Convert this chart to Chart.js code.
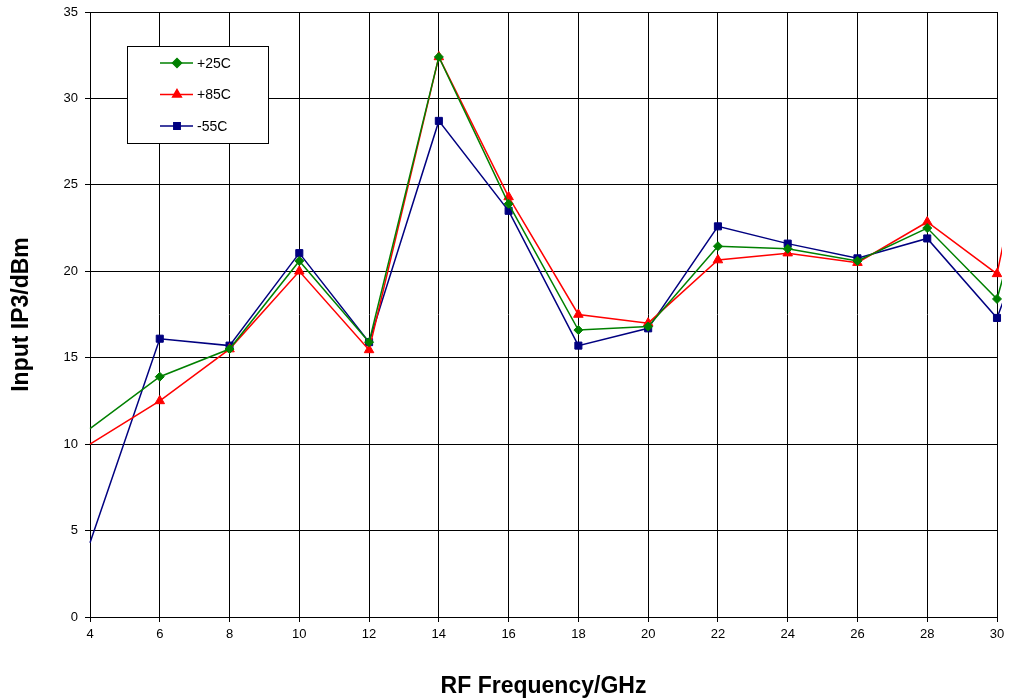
<!DOCTYPE html>
<html>
<head>
<meta charset="utf-8">
<script src="https://cdn.jsdelivr.net/npm/chart.js@4/dist/chart.umd.min.js"></script>
<style>
  html, body { margin: 0; padding: 0; background: #fff; }
  #wrap { width: 1010px; height: 700px; }
</style>
</head>
<body>
<div id="wrap"><canvas id="grafica" width="1010" height="700"></canvas></div>
<script>
// datos (GHz / dBm); el ultimo punto solo asoma tras el borde derecho
const frecuencias = [4, 6, 8, 10, 12, 14, 16, 18, 20, 22, 24, 26, 28, 30, 31];
const serie25 = [10.9, 13.9, 15.5, 20.6, 15.9, 32.4, 23.9, 16.6, 16.8, 21.45, 21.3, 20.6, 22.5, 18.4, 25.6];
const serie85 = [10.0, 12.5, 15.5, 20.0, 15.45, 32.4, 24.3, 17.5, 17.0, 20.65, 21.05, 20.5, 22.85, 19.85, 29.5];
const serieM55 = [4.3, 16.1, 15.7, 21.05, 15.9, 28.7, 23.5, 15.7, 16.7, 22.6, 21.6, 20.75, 21.9, 17.3, 22.7];
const etiquetas = ['+25C', '+85C', '-55C'];
const xTicks = [4, 6, 8, 10, 12, 14, 16, 18, 20, 22, 24, 26, 28, 30];
const yTicks = [0, 5, 10, 15, 20, 25, 30, 35];

const FONT = 'Arial, "Liberation Sans", sans-serif';

// radio del marcador: sin marcador en los extremos recortados
const visibles = frecuencias.map((f, i) => !(i === 0 || f > 30));

function serie(label, valores, color, estilo, radio) {
  return {
    label,
    data: frecuencias.map((f, i) => ({ x: f, y: valores[i] })),
    borderColor: color,
    backgroundColor: color,
    borderWidth: 1.5,
    pointStyle: estilo,
    pointRadius: visibles.map(v => v ? radio : 0),
    pointHoverRadius: visibles.map(v => v ? radio : 0),
    pointBorderWidth: 1,
    tension: 0,
    clip: { left: 2, top: 8, right: 5, bottom: 0 }
  };
}

const datasets = [
  serie(etiquetas[0], serie25, '#008000', 'rectRot', 4.5),
  serie(etiquetas[1], serie85, '#ff0000', 'triangle', 5.5),
  serie(etiquetas[2], serieM55, '#000080', 'rect', 5)
];

// leyenda dibujada a mano dentro del area del grafico
const leyenda = {
  id: 'leyenda',
  afterDraw(chart) {
    const ctx = chart.ctx;
    ctx.save();
    ctx.fillStyle = '#fff';
    ctx.fillRect(127, 46, 141, 97);
    ctx.strokeStyle = '#000';
    ctx.lineWidth = 1;
    ctx.strokeRect(127.5, 46.5, 141, 97);
    const filas = [63, 94.5, 126];
    chart.data.datasets.forEach((ds, i) => {
      const y = filas[i];
      ctx.strokeStyle = ds.borderColor;
      ctx.lineWidth = 1.5;
      ctx.beginPath();
      ctx.moveTo(160, y);
      ctx.lineTo(193, y);
      ctx.stroke();
      Chart.helpers.drawPoint(ctx, {
        pointStyle: ds.pointStyle, radius: i === 1 ? 5 : 4.5, borderWidth: 1
      }, 177, y);
      ctx.fillStyle = ds.borderColor;
      ctx.fill();
      ctx.fillStyle = '#000';
      ctx.font = '14px ' + FONT;
      ctx.textBaseline = 'middle';
      ctx.textAlign = 'left';
      ctx.fillText(ds.label, 197, y + 1);
    });
    ctx.restore();
  }
};

// fija los limites del eje x sin usar min/max (asi el tramo hasta 31 no se descarta)
function limitesX(axis) {
  axis.min = xTicks[0];
  axis.max = xTicks[xTicks.length - 1];
}

new Chart(document.getElementById('grafica'), {
  type: 'line',
  data: { datasets },
  options: {
    responsive: false,
    animation: false,
    layout: { padding: { top: 12, right: 13, left: 0, bottom: 0 } },
    plugins: { legend: { display: false }, tooltip: { enabled: false } },
    scales: {
      x: {
        type: 'linear',
        bounds: 'data',
        afterDataLimits: limitesX,
        afterBuildTicks: axis => { axis.ticks = xTicks.map(v => ({ value: v })); limitesX(axis); },
        afterFit: axis => { axis.height = 83; axis.paddingLeft = 0; axis.paddingRight = 0; },
        grid: { color: '#000', lineWidth: 1, tickLength: 5, drawTicks: true },
        border: { color: '#000', width: 1 },
        ticks: { color: '#000', font: { family: FONT, size: 13 }, padding: 5, maxRotation: 0 },
        title: {
          display: true,
          text: 'RF Frequency/GHz',
          color: '#000',
          font: { family: FONT, size: 23, weight: 'bold' },
          padding: { top: 10, bottom: 0 }
        }
      },
      y: {
        min: 0,
        max: 35,
        afterBuildTicks: axis => { axis.ticks = yTicks.map(v => ({ value: v })); },
        afterFit: axis => { axis.width = 90; axis.paddingTop = 0; axis.paddingBottom = 0; },
        grid: { color: '#000', lineWidth: 1, tickLength: 5, drawTicks: true },
        border: { color: '#000', width: 1 },
        ticks: { color: '#000', font: { family: FONT, size: 13 }, padding: 7 },
        title: {
          display: true,
          text: 'Input IP3/dBm',
          color: '#000',
          font: { family: FONT, size: 23, weight: 'bold' },
          padding: { top: 8, bottom: 0 }
        }
      }
    }
  },
  plugins: [leyenda]
});
</script>
</body>
</html>
